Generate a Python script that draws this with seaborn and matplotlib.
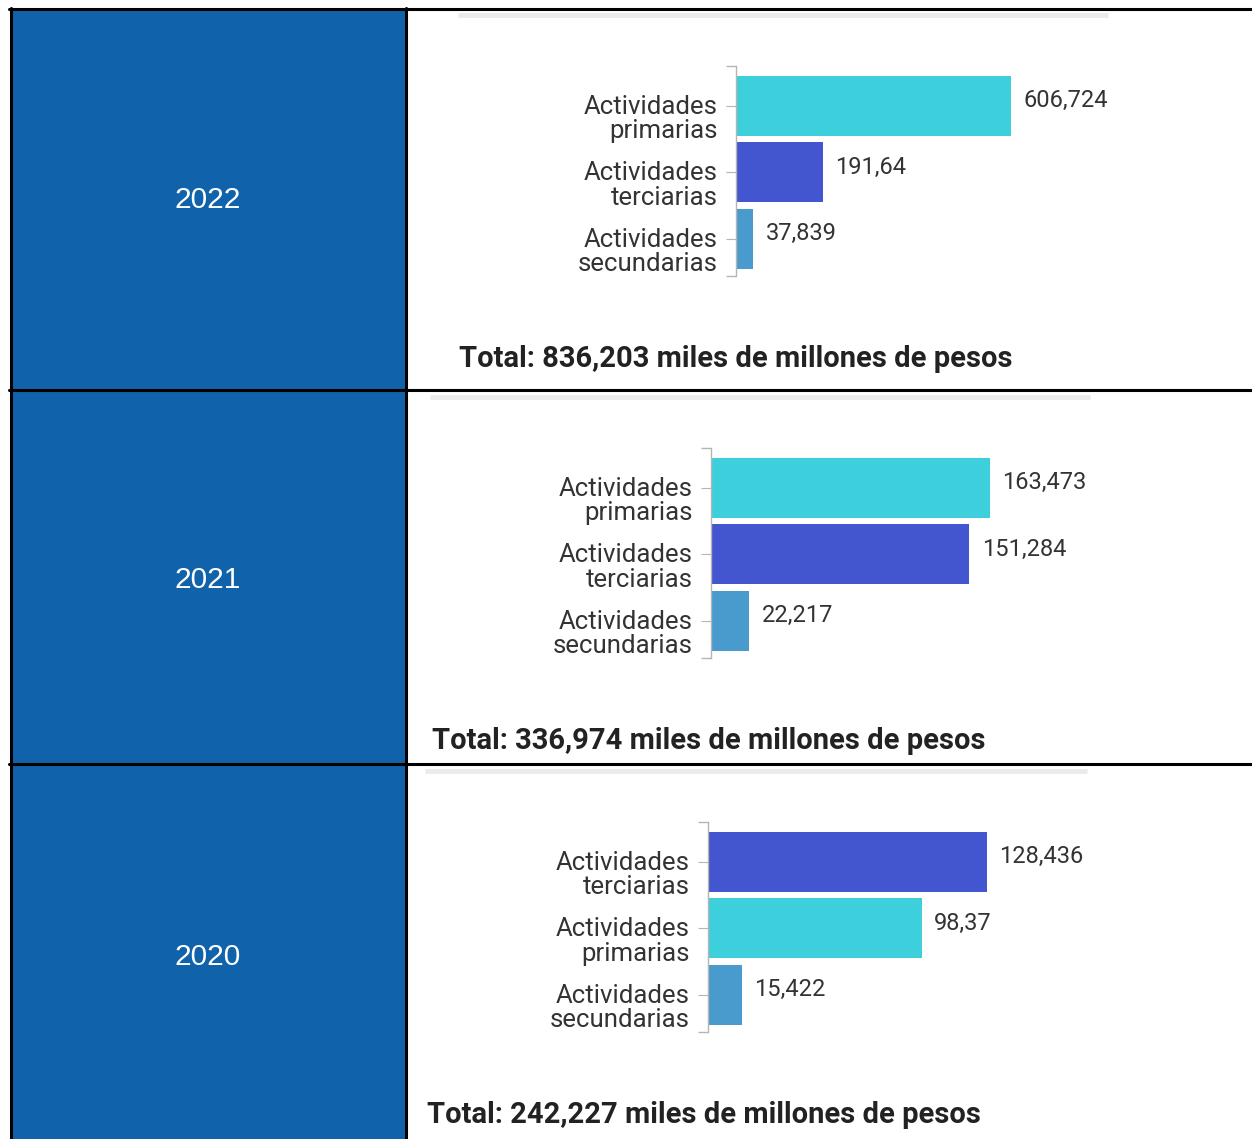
import matplotlib
matplotlib.use("Agg")
import matplotlib.pyplot as plt
import matplotlib.transforms as mtransforms
from matplotlib.lines import Line2D
from matplotlib.patches import Rectangle
import seaborn as sns
import pandas as pd

# ---------------- data ----------------
years = ["2022", "2021", "2020"]
categories_2022 = ["Actividades\nprimarias", "Actividades\nterciarias", "Actividades\nsecundarias"]
values_2022 = [606.724, 191.64, 37.839]
categories_2021 = ["Actividades\nprimarias", "Actividades\nterciarias", "Actividades\nsecundarias"]
values_2021 = [163.473, 151.284, 22.217]
categories_2020 = ["Actividades\nterciarias", "Actividades\nprimarias", "Actividades\nsecundarias"]
values_2020 = [128.436, 98.37, 15.422]
totals = ["836,203", "336,974", "242,227"]

palette = {
    "Actividades\nprimarias": "#3ecfdc",
    "Actividades\nterciarias": "#4455d0",
    "Actividades\nsecundarias": "#4a9bcd",
}

# ---------------- layout (pixels) ----------------
W, H = 1252, 1139
sns.set_theme(style="white")
plt.rcParams["font.family"] = ["Roboto", "DejaVu Sans"]

fig = plt.figure(figsize=(W / 100, H / 100), dpi=100)
fig.patch.set_facecolor("white")


def fx(x):
    return x / W


def fy(y):
    return 1 - y / H


# table structure
row_tops = [9, 390, 764]
row_bots = [390, 764, H + 5]
blue = "#1062ab"
for top, bot in zip(row_tops, row_bots):
    fig.add_artist(Rectangle((fx(10), fy(bot)), fx(406) - fx(10), fy(top) - fy(bot),
                             facecolor=blue, edgecolor="none", transform=fig.transFigure, zorder=0))

lw = 2.2
for y in [9, 390, 764]:
    fig.add_artist(Line2D([fx(9), 1.0], [fy(y), fy(y)], color="black", lw=lw, transform=fig.transFigure))
for x in [10.5, 406]:
    fig.add_artist(Line2D([fx(x), fx(x)], [fy(8), 0], color="black", lw=lw, transform=fig.transFigure))

# year labels
year_y = [200, 580, 957]
for yr, yy in zip(years, year_y):
    fig.text(fx(208), fy(yy), yr, color="white", fontsize=21.5, ha="center", va="center",
             family=["Liberation Sans", "DejaVu Sans"])

# panels
panels = [
    (categories_2022, values_2022, 736, 66, 276, 275, (458, 1108, 15), (459, 359)),
    (categories_2021, values_2021, 711, 448, 658, 279, (430, 1090, 397), (432, 741)),
    (categories_2020, values_2020, 708, 822, 1032, 279, (425, 1087, 771), (427, 1115)),
]

ax_w = 400
for k, (cats, vals, axx, btop, bbot, maxpx, gline, tpos) in enumerate(panels):
    ax = fig.add_axes([fx(axx), fy(bbot), ax_w / W, (bbot - btop) / H])
    df = pd.DataFrame({"cat": cats, "val": vals})
    sns.barplot(data=df, x="val", y="cat", hue="cat", palette=palette, order=cats,
                width=0.9, ax=ax, legend=False, saturation=1, edgecolor="none")
    ax.set_xlim(0, max(vals) * ax_w / maxpx)
    ax.set_ylim(2.56, -0.6)
    ax.set_facecolor("none")
    for s in ["top", "right", "bottom"]:
        ax.spines[s].set_visible(False)
    ax.spines["left"].set_color("#b5b5b5")
    ax.spines["left"].set_linewidth(1.0)
    ax.set_xticks([])
    ax.set_xlabel("")
    ax.set_ylabel("")
    ax.set_yticks(range(len(cats)))
    ax.set_yticks([2.56, -0.6], minor=True)
    ax.tick_params(axis="y", which="major", length=7, width=0.8, color="#b5b5b5", pad=6,
                   labelsize=18.5, labelcolor="#333333", left=True)
    ax.tick_params(axis="y", which="minor", length=7, width=1.0, color="#b5b5b5", left=True)
    ax.set_yticklabels(cats, va="top", linespacing=1.02)
    off = mtransforms.ScaledTranslation(0, 0.11, fig.dpi_scale_trans)
    for lab in ax.get_yticklabels():
        lab.set_transform(lab.get_transform() + off)
    for i, v in enumerate(vals):
        ax.annotate(f"{v:g}".replace(".", ","), xy=(v, i - 0.08), xytext=(9, 0),
                    textcoords="offset points", va="center", ha="left",
                    fontsize=17, color="#333333", annotation_clip=False)
    # grey line at the top of each panel
    x0, x1, gy = gline
    fig.add_artist(Line2D([fx(x0), fx(x1)], [fy(gy), fy(gy)], color="#ebebeb", lw=3.5,
                          transform=fig.transFigure, solid_capstyle="butt"))
    fig.text(fx(tpos[0]), fy(tpos[1]), f"Total: {totals[k]} miles de millones de pesos",
             fontsize=21, fontweight="bold", color="#222222", ha="left", va="center")

fig.savefig("out.png", dpi=100, facecolor="white")
